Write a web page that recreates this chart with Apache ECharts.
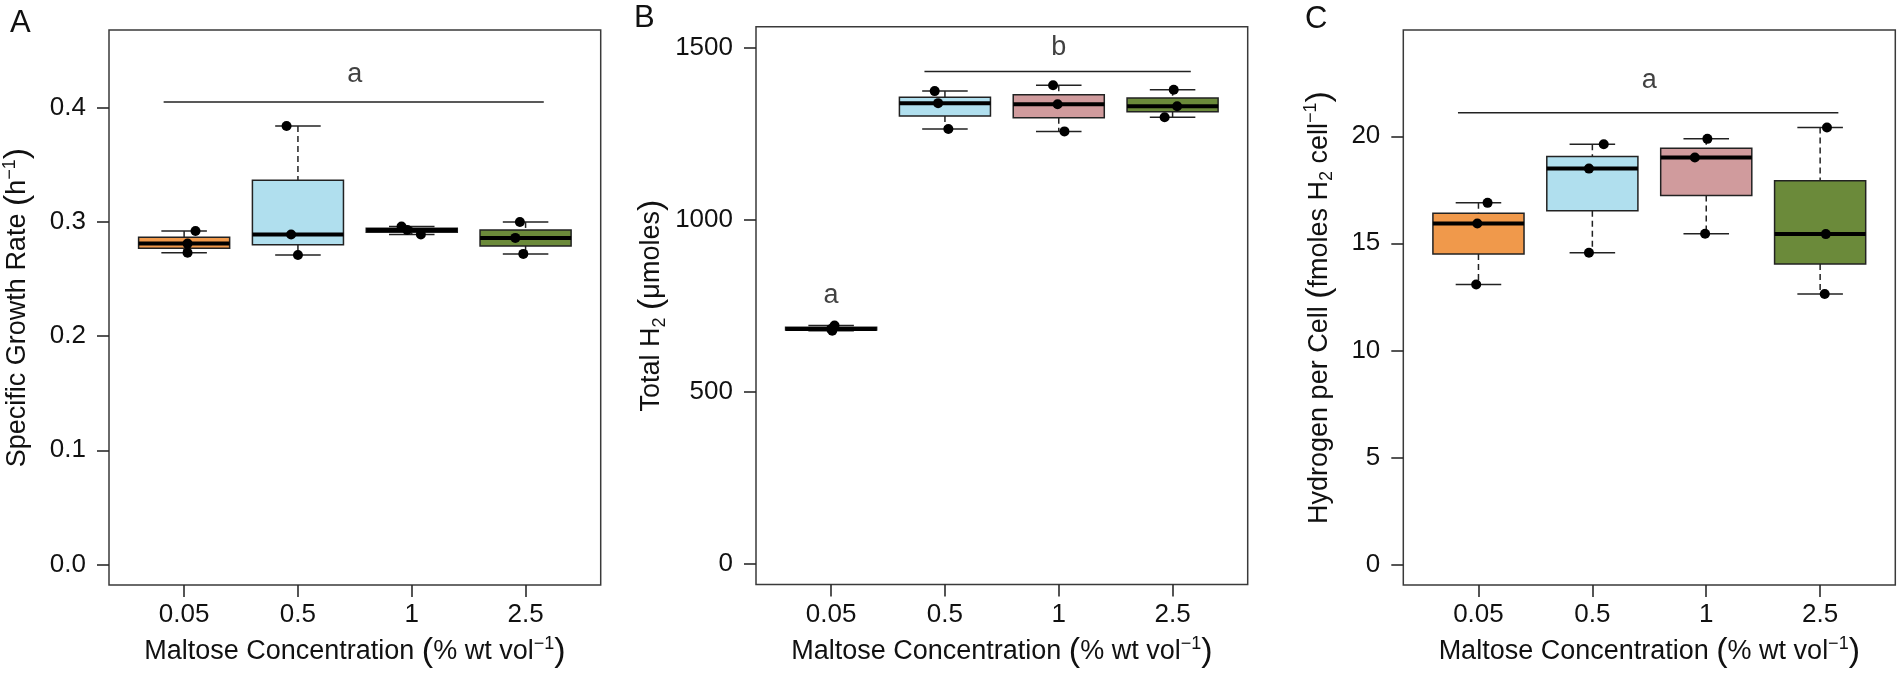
<!DOCTYPE html>
<html><head><meta charset="utf-8">
<script src="https://cdn.jsdelivr.net/npm/echarts@6/dist/echarts.min.js"></script>
<style>html,body{margin:0;padding:0;background:#fff}#c{width:1902px;height:674px}</style>
</head><body><div id="c"></div>
<script>
// ---------------- DATA ----------------
const categories = ['0.05', '0.5', '1', '2.5'];
const boxColors = ['#F0994B', '#B0DFEE', '#D09B9D', '#6B8A3A'];

// Panel A: specific growth rate (h^-1), three replicates per concentration
const growthRate = [
  [0.292, 0.281, 0.273],
  [0.384, 0.289, 0.271],
  [0.296, 0.293, 0.289],
  [0.300, 0.286, 0.272]
];
const growthJitter = [
  [0.10, 0.03, 0.03],
  [-0.10, -0.06, 0.00],
  [-0.09, -0.04, 0.08],
  [-0.05, -0.09, -0.02]
];

// Panel B: total H2 (umoles)
const totalH2 = [
  [692, 682, 677],
  [1373, 1338, 1263],
  [1390, 1335, 1256],
  [1377, 1329, 1297]
];
const totalJitter = [
  [0.03, 0.00, 0.01],
  [-0.09, -0.06, 0.03],
  [-0.05, -0.01, 0.05],
  [0.01, 0.04, -0.07]
];

// Panel C: hydrogen per cell (fmoles H2 cell^-1)
const h2PerCell = [
  [16.89, 15.93, 13.08],
  [19.63, 18.49, 14.56],
  [19.88, 19.01, 15.45],
  [20.41, 15.43, 12.63]
];
const cellJitter = [
  [0.08, -0.01, -0.02],
  [0.10, -0.03, -0.03],
  [0.01, -0.10, -0.01],
  [0.06, 0.05, 0.04]
];

// axis ticks and limits
const yTicksA = [0, 0.1, 0.2, 0.3, 0.4];
const yTicksB = [0, 500, 1000, 1500];
const yTicksC = [0, 5, 10, 15, 20];
const yLimA = [0, 0.45];
const yLimB = [0, 1500];
const yLimC = [0, 24];
const xLim = [0.5, 4.5];

// significance brackets: [xStart, xEnd, y] and letters: [x, y, text]
const sigLinesA = [[0.82, 4.16, 0.405]];
const sigLettersA = [[2.5, 0.429, 'a']];
const sigLinesB = [[1.82, 4.16, 1430]];
const sigLettersB = [[1, 779, 'a'], [3, 1499, 'b']];
const sigLinesC = [[0.82, 4.16, 21.1]];
const sigLettersC = [[2.5, 22.6, 'a']];

// ---------------- HELPERS ----------------
const FONT = 'Liberation Sans, Arial, Helvetica, sans-serif';
function fivenum(v) {
  const x = [...v].sort((a, b) => a - b);
  const n = x.length;
  const n4 = Math.floor((n + 3) / 2) / 2;
  const d = [1, n4, (n + 1) / 2, n + 1 - n4, n];
  return d.map(i => 0.5 * (x[Math.floor(i) - 1] + x[Math.ceil(i) - 1]));
}
function ext(lim) { const p = (lim[1] - lim[0]) * 0.04; return [lim[0] - p, lim[1] + p]; }
function boxData(groups) { return groups.map((g, i) => [i + 1].concat(fivenum(g), [i])); }
function pointData(groups, jit) {
  const out = [];
  groups.forEach((g, i) => g.forEach((v, j) => out.push([i + 1 + jit[i][j], v])));
  return out;
}
function renderBox(params, api) {
  const x = api.value(0), mn = api.value(1), q1 = api.value(2), md = api.value(3), q3 = api.value(4), mx = api.value(5), ci = api.value(6);
  const tl = api.coord([x - 0.4, q3]), br = api.coord([x + 0.4, q1]);
  const mid = api.coord([x, md]), top = api.coord([x, mx]), bot = api.coord([x, mn]);
  const capL = api.coord([x - 0.2, mx])[0], capR = api.coord([x + 0.2, mx])[0];
  const dashed = { stroke: '#222', lineWidth: 1.5, lineDash: [6, 4] };
  const solid = { stroke: '#222', lineWidth: 1.5 };
  return { type: 'group', children: [
    { type: 'line', shape: { x1: top[0], y1: top[1], x2: top[0], y2: tl[1] }, style: dashed },
    { type: 'line', shape: { x1: bot[0], y1: br[1], x2: bot[0], y2: bot[1] }, style: dashed },
    { type: 'line', shape: { x1: capL, y1: top[1], x2: capR, y2: top[1] }, style: solid },
    { type: 'line', shape: { x1: capL, y1: bot[1], x2: capR, y2: bot[1] }, style: solid },
    { type: 'rect', shape: { x: tl[0], y: tl[1], width: br[0] - tl[0], height: br[1] - tl[1] }, style: { fill: boxColors[ci], stroke: '#222', lineWidth: 1.5 } },
    { type: 'line', shape: { x1: tl[0], y1: mid[1], x2: br[0], y2: mid[1] }, style: { stroke: '#000', lineWidth: 4 } }
  ]};
}
const rich = {
  t: { fontSize: 27, lineHeight: 34, fontFamily: FONT, color: '#111' },
  p: { fontSize: 34, lineHeight: 34, fontFamily: FONT, color: '#111' },
  s: { fontSize: 18, lineHeight: 18, verticalAlign: 'top', fontFamily: FONT, color: '#111' },
  b: { fontSize: 18, lineHeight: 18, verticalAlign: 'bottom', fontFamily: FONT, color: '#111' }
};

const grids = [
  { left: 108.7, top: 30.1, width: 492, height: 555.4 },
  { left: 756, top: 26.7, width: 491.7, height: 557.9 },
  { left: 1403.3, top: 30.1, width: 492, height: 555.4 }
].map(g => Object.assign(g, { show: true, borderColor: '#3a3a3a', borderWidth: 1.5, backgroundColor: 'transparent', containLabel: false }));

const xName = '{t|Maltose Concentration }{p|(}{t|% wt vol}{s|\u22121}{p|)}';
const xAxes = [0, 1, 2].map(i => ({
  type: 'value', gridIndex: i, position: 'bottom', min: ext(xLim)[0], max: ext(xLim)[1],
  axisLine: { show: false, onZero: false }, splitLine: { show: false },
  axisTick: { show: true, customValues: [1, 2, 3, 4], length: 12, lineStyle: { color: '#2a2a2a', width: 1.6 } },
  axisLabel: { customValues: [1, 2, 3, 4], formatter: v => categories[Math.round(v) - 1], fontSize: 26, margin: 17, color: '#111', fontFamily: FONT },
  name: xName, nameLocation: 'middle', nameGap: 50, nameTextStyle: { rich: rich, fontFamily: FONT, fontSize: 27 }
}));

function yAxis(i, lim, ticks, fmt, name, gap) {
  const e = ext(lim);
  return {
    type: 'value', gridIndex: i, position: 'left', min: e[0], max: e[1],
    axisLine: { show: false, onZero: false }, splitLine: { show: false },
    axisTick: { show: true, customValues: ticks, length: 12, lineStyle: { color: '#2a2a2a', width: 1.6 } },
    axisLabel: { customValues: ticks, formatter: fmt, fontSize: 26, margin: 23, color: '#111', fontFamily: FONT },
    name: name, nameLocation: 'middle', nameGap: gap, nameTextStyle: { rich: rich, fontFamily: FONT, fontSize: 27 }
  };
}
const yAxes = [
  yAxis(0, yLimA, yTicksA, v => v.toFixed(1), '{t|Specific Growth Rate }{p|(}{t|h}{s|\u22121}{p|)}', 74),
  yAxis(1, yLimB, yTicksB, v => String(Math.round(v)), '{t|Total H}{b|2}{t| }{p|(}{t|\u03bcmoles}{p|)}', 87),
  yAxis(2, yLimC, yTicksC, v => String(Math.round(v)), '{t|Hydrogen per Cell }{p|(}{t|fmoles H}{b|2}{t| cell}{s|\u22121}{p|)}', 67)
];

const panels = [
  { groups: growthRate, jit: growthJitter, lines: sigLinesA, letters: sigLettersA },
  { groups: totalH2, jit: totalJitter, lines: sigLinesB, letters: sigLettersB },
  { groups: h2PerCell, jit: cellJitter, lines: sigLinesC, letters: sigLettersC }
];
const series = [];
panels.forEach((p, i) => {
  series.push({ type: 'custom', xAxisIndex: i, yAxisIndex: i, renderItem: renderBox, data: boxData(p.groups), encode: { x: 0, y: [1, 2, 3, 4, 5] }, silent: true, z: 2 });
  series.push({ type: 'scatter', xAxisIndex: i, yAxisIndex: i, data: pointData(p.groups, p.jit), symbol: 'circle', symbolSize: 10, itemStyle: { color: '#000', opacity: 1 }, silent: true, z: 3 });
  p.lines.forEach(l => series.push({ type: 'line', xAxisIndex: i, yAxisIndex: i, data: [[l[0], l[2]], [l[1], l[2]]], showSymbol: false, symbol: 'none', lineStyle: { color: '#222', width: 1.5 }, silent: true, z: 4 }));
  series.push({ type: 'scatter', xAxisIndex: i, yAxisIndex: i, data: p.letters.map(l => [l[0], l[1], l[2]]), symbolSize: 1, itemStyle: { color: 'rgba(0,0,0,0)' }, silent: true, z: 5,
    label: { show: true, position: 'inside', formatter: q => q.value[2], fontSize: 27, color: '#111', fontFamily: FONT } });
});

const letterStyle = { fontSize: 31, fontWeight: 'normal', color: '#111', fontFamily: FONT };
const chart = echarts.init(document.getElementById('c'), null, { renderer: 'canvas' });
chart.setOption({
  backgroundColor: '#fff',
  animation: false,
  title: [
    { text: 'A', left: 10, top: 8, padding: 0, textStyle: letterStyle },
    { text: 'B', left: 634, top: 3, padding: 0, textStyle: letterStyle },
    { text: 'C', left: 1305, top: 4, padding: 0, textStyle: letterStyle }
  ],
  grid: grids, xAxis: xAxes, yAxis: yAxes, series: series
});
</script></body></html>
